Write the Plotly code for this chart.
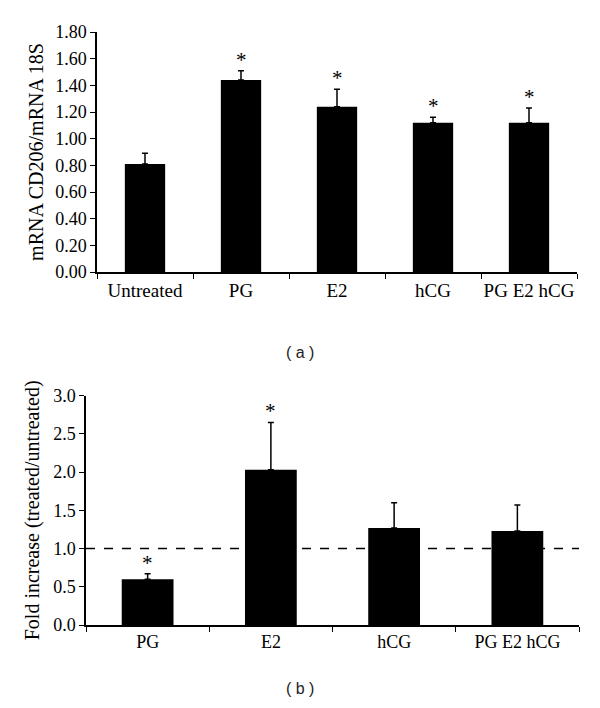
import plotly.graph_objects as go

# Panel (a)
cats_a = ["Untreated", "PG", "E2", "hCG", "PG E2 hCG"]
vals_a = [0.81, 1.44, 1.24, 1.12, 1.12]
err_a = [0.08, 0.07, 0.13, 0.04, 0.11]
star_a = [False, True, True, True, True]
yticks_a = [0.0, 0.2, 0.4, 0.6, 0.8, 1.0, 1.2, 1.4, 1.6, 1.8]

# Panel (b)
cats_b = ["PG", "E2", "hCG", "PG E2 hCG"]
vals_b = [0.60, 2.03, 1.27, 1.23]
err_b = [0.07, 0.62, 0.33, 0.34]
star_b = [True, True, False, False]
yticks_b = [0.0, 0.5, 1.0, 1.5, 2.0, 2.5, 3.0]
ref_line_b = 1.0

SERIF = "Liberation Serif, Times New Roman, serif"
SANS = "Liberation Sans, Arial, sans-serif"
W, H = 600, 708

fig = go.Figure()
fig.add_trace(go.Bar(
    x=cats_a, y=vals_a, xaxis="x", yaxis="y",
    marker=dict(color="black", line=dict(width=0)),
    error_y=dict(type="data", array=err_a, arrayminus=[0]*len(err_a),
                 symmetric=False, color="black", thickness=1.5, width=3),
    showlegend=False,
))
fig.add_trace(go.Bar(
    x=cats_b, y=vals_b, xaxis="x2", yaxis="y2",
    marker=dict(color="black", line=dict(width=0)),
    error_y=dict(type="data", array=err_b, arrayminus=[0]*len(err_b),
                 symmetric=False, color="black", thickness=1.5, width=3),
    showlegend=False,
))

annotations = []
for c, v, e, s in zip(cats_a, vals_a, err_a, star_a):
    if s:
        annotations.append(dict(x=c, y=v + e, xref="x", yref="y", text="*",
                                showarrow=False, yanchor="bottom", yshift=-3,
                                font=dict(family=SERIF, size=21, color="black")))
for c, v, e, s in zip(cats_b, vals_b, err_b, star_b):
    if s:
        annotations.append(dict(x=c, y=v + e, xref="x2", yref="y2", text="*",
                                showarrow=False, yanchor="bottom", yshift=-3,
                                font=dict(family=SERIF, size=21, color="black")))
annotations.append(dict(x=0.5, y=(H - 352) / H, xref="paper", yref="paper",
                        text="( a )", showarrow=False,
                        font=dict(family=SANS, size=16, color="#222")))
annotations.append(dict(x=0.5, y=(H - 692) / H, xref="paper", yref="paper",
                        text="( b )", showarrow=False, yshift=-7,
                        font=dict(family=SANS, size=16, color="#222")))

axis_common = dict(showline=True, linecolor="black", linewidth=1.5,
                   showgrid=False, zeroline=False, ticks="outside",
                   tickcolor="black", tickwidth=1.2, ticklen=5,
                   automargin=False)

def tf(size):
    return dict(family=SERIF, size=size, color="black")

fig.update_layout(
    width=W, height=H,
    margin=dict(l=0, r=0, t=0, b=0, pad=0, autoexpand=False),
    plot_bgcolor="white", paper_bgcolor="white",
    bargap=0.58,
    xaxis=dict(domain=[97 / W, 577 / W], anchor="y", type="category",
               tickson="boundaries", tickangle=0, tickfont=tf(19),
               **axis_common),
    yaxis=dict(domain=[(H - 272) / H, (H - 32) / H], anchor="x",
               range=[0, 1.8], tickvals=yticks_a, tickformat=".2f",
               tickfont=tf(18),
               title=dict(text="mRNA CD206/mRNA 18S", standoff=6, font=tf(20)),
               **axis_common),
    xaxis2=dict(domain=[86 / W, 579 / W], anchor="y2", type="category",
                tickson="boundaries", tickangle=0, tickfont=tf(18),
                **axis_common),
    yaxis2=dict(domain=[(H - 625) / H, (H - 395.7) / H], anchor="x2",
                range=[0, 3.0], tickvals=yticks_b, tickformat=".1f",
                tickfont=tf(18),
                title=dict(text="Fold increase (treated/untreated)", standoff=8,
                           font=tf(20)),
                **axis_common),
    shapes=[dict(type="line", xref="x2 domain", yref="y2", x0=0, x1=1,
                 y0=ref_line_b, y1=ref_line_b,
                 line=dict(color="black", width=1.5, dash="dash"))],
    annotations=annotations,
)

fig.write_html("out.html", config={"displayModeBar": False},
               post_script="document.body.style.margin='0';document.body.style.overflow='hidden';")
